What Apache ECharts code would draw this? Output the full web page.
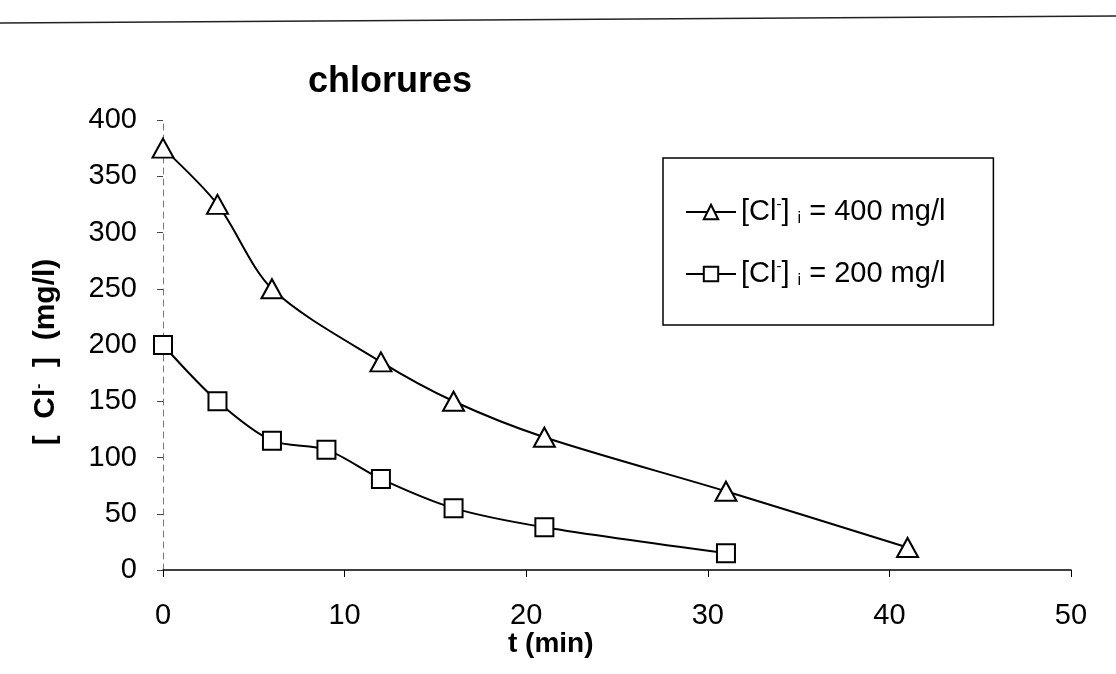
<!DOCTYPE html>
<html>
<head>
<meta charset="utf-8">
<script src="https://cdn.jsdelivr.net/npm/echarts@6/dist/echarts.min.js"></script>
<style>
  html, body { margin: 0; padding: 0; background: #fff; }
  #chart { width: 1116px; height: 674px; }
</style>
</head>
<body>
<div id="chart"></div>
<script>
// Chloride concentration over time for two initial concentrations
const timesHigh = [0, 3, 6, 12, 16, 21, 31, 41];           // t (min)
const valuesHigh = [375, 325, 250, 185, 150, 118, 70, 20]; // [Cl-] (mg/l), initial 400 mg/l
const timesLow = [0, 3, 6, 9, 12, 16, 21, 31];
const valuesLow = [200, 150, 115, 107, 81, 55, 38, 15];    // [Cl-] (mg/l), initial 200 mg/l

const seriesNames = ['Cl 400', 'Cl 200'];
const legendLabels = {
  'Cl 400': '[Cl{sup|-}] {sub|i} = 400 mg/l',
  'Cl 200': '[Cl{sup|-}] {sub|i} = 200 mg/l'
};
const titleText = 'chlorures';
const xName = 't (min)';
const yName = '[  Cl{sup|-}  ]  (mg/l)';

const FONT = '"Liberation Sans", Arial, sans-serif';

function pairs(xs, ys) {
  return xs.map((x, i) => [x, ys[i]]);
}

const chart = echarts.init(document.getElementById('chart'), null, { renderer: 'canvas' });

chart.setOption({
  backgroundColor: '#ffffff',
  animation: false,
  textStyle: { fontFamily: FONT, color: '#000' },
  title: {
    text: titleText,
    left: 385,
    top: 59,
    textAlign: 'center',
    textStyle: { fontFamily: FONT, fontSize: 36, fontWeight: 'bold', color: '#000' }
  },
  grid: { left: 163, right: 45, top: 120, bottom: 104 },
  legend: {
    orient: 'vertical',
    left: 663,
    top: 158,
    data: seriesNames,
    backgroundColor: '#fff',
    borderColor: '#000',
    borderWidth: 1.5,
    borderRadius: 0,
    padding: [39, 48, 36, 22],
    itemGap: 32,
    itemWidth: 50,
    itemHeight: 18,
    formatter: name => legendLabels[name],
    textStyle: {
      fontFamily: FONT,
      fontSize: 29,
      color: '#000',
      rich: {
        sup: { fontSize: 15, verticalAlign: 'top', padding: [0, 0, 15, 0], fontFamily: FONT },
        sub: { fontSize: 16, verticalAlign: 'bottom', padding: [11, 0, 0, 0], fontFamily: FONT }
      }
    }
  },
  xAxis: {
    type: 'value',
    min: 0,
    max: 50,
    interval: 10,
    axisLine: { show: true, lineStyle: { color: '#000', width: 1.5 } },
    axisTick: { show: true, inside: false, length: 7, lineStyle: { color: '#000' } },
    axisLabel: { fontFamily: FONT, fontSize: 29, color: '#000', margin: 31 },
    splitLine: { show: false }
  },
  yAxis: {
    type: 'value',
    min: 0,
    max: 400,
    interval: 50,
    name: yName,
    nameLocation: 'middle',
    nameGap: 102,
    nameRotate: 90,
    nameTextStyle: {
      fontFamily: FONT,
      fontSize: 30,
      fontWeight: 'bold',
      color: '#000',
      padding: [0, 14, 0, 0],
      rich: {
        sup: { fontSize: 15, fontWeight: 'bold', verticalAlign: 'top', padding: [0, 0, 15, 0], fontFamily: FONT }
      }
    },
    axisLine: { show: true, lineStyle: { color: '#777', width: 1, type: [6, 5] } },
    axisTick: { show: true, inside: false, length: 6, lineStyle: { color: '#444' } },
    axisLabel: { fontFamily: FONT, fontSize: 29, color: '#000', margin: 26 },
    splitLine: { show: false }
  },
  graphic: [
    {
      type: 'line',
      shape: { x1: 0, y1: 23, x2: 1116, y2: 16 },
      style: { stroke: '#222', lineWidth: 1.5 },
      silent: true
    },
    {
      type: 'text',
      left: 508,
      top: 630,
      style: { text: xName, font: 'bold 28px ' + FONT, fill: '#000' },
      silent: true
    }
  ],
  series: [
    {
      name: seriesNames[0],
      type: 'line',
      data: pairs(timesHigh, valuesHigh),
      smooth: 0.3,
      symbol: 'triangle',
      symbolSize: [21, 19],
      showAllSymbol: true,
      lineStyle: { color: '#000', width: 2 },
      itemStyle: { color: '#fff', borderColor: '#000', borderWidth: 2 },
      z: 3
    },
    {
      name: seriesNames[1],
      type: 'line',
      data: pairs(timesLow, valuesLow),
      smooth: 0.3,
      symbol: 'rect',
      symbolSize: 18,
      showAllSymbol: true,
      lineStyle: { color: '#000', width: 2 },
      itemStyle: { color: '#fff', borderColor: '#000', borderWidth: 2 },
      z: 3
    }
  ]
});
</script>
</body>
</html>
